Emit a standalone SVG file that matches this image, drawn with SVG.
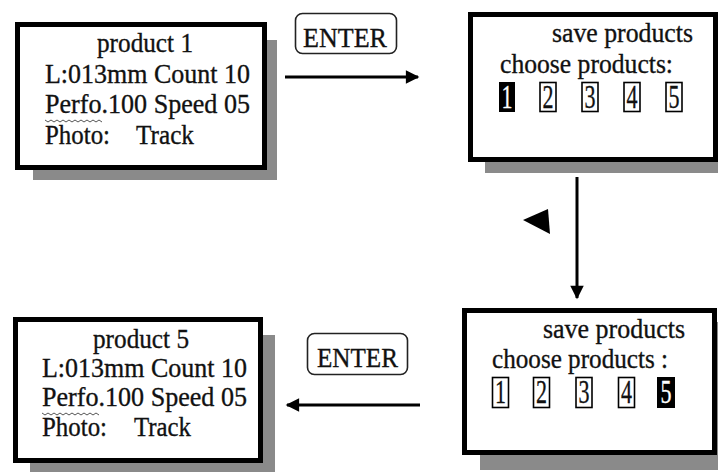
<svg xmlns="http://www.w3.org/2000/svg" width="718" height="472" viewBox="0 0 718 472" font-family="'Liberation Serif', 'DejaVu Serif', serif">
  <style>
    text { font-family: 'Liberation Serif', 'DejaVu Serif', serif; font-size: 28px; fill: #111; stroke: #111; stroke-width: 0.35; }
    .shadow { fill: #8a8a8a; }
    .panel { fill: #fff; stroke: #000; stroke-width: 5; }
    .key { fill: #fff; stroke: #222; stroke-width: 1.6; }
    .cell { fill: #fff; stroke: #000; stroke-width: 1.6; }
    .cell-on { fill: #000; }
    .digit { font-size: 34px; }
    .digit-on { font-size: 34px; fill: #fff; stroke: #fff; }
    .wire { fill: none; stroke: #000; stroke-width: 3; }
    .squiggle { fill: none; stroke: #555; stroke-width: 1; }
  </style>
  <defs>
    <marker id="head" viewBox="0 0 10 10" refX="9" refY="5" markerWidth="6" markerHeight="4.5" orient="auto" markerUnits="strokeWidth">
      <path d="M0,0 L10,5 L0,10 z" fill="#000"/>
    </marker>
  </defs>

  <rect width="718" height="472" fill="#fff"/>

  <!-- product 1 screen -->
  <g id="screen-product1">
    <rect class="shadow" x="33" y="40" width="244" height="140"/>
    <rect class="panel" x="17.5" y="24.5" width="247" height="143"/>
    <text x="97" y="52" textLength="96" lengthAdjust="spacingAndGlyphs">product 1</text>
    <text x="45" y="83" textLength="205" lengthAdjust="spacingAndGlyphs">L:013mm Count 10</text>
    <text x="45" y="113" textLength="205" lengthAdjust="spacingAndGlyphs">Perfo.100 Speed 05</text>
    <path class="squiggle" d="M45,120 l3,2 l3,-2 l3,2 l3,-2 l3,2 l3,-2 l3,2 l3,-2 l3,2 l3,-2 l3,2 l3,-2 l3,2 l3,-2 l3,2 l3,-2 l3,2 l3,-2 l3,2"/>
    <text x="45" y="144" textLength="65" lengthAdjust="spacingAndGlyphs">Photo:</text>
    <text x="136" y="144" textLength="58" lengthAdjust="spacingAndGlyphs">Track</text>
  </g>

  <!-- save products screen, slot 1 selected -->
  <g id="screen-save-1">
    <rect class="shadow" x="485" y="150" width="233" height="23"/>
    <rect class="panel" x="470.5" y="14.5" width="245" height="145"/>
    <text x="552" y="42" textLength="141" lengthAdjust="spacingAndGlyphs">save products</text>
    <text x="500" y="73" textLength="173" lengthAdjust="spacingAndGlyphs">choose products:</text>
    <rect class="cell-on" x="499" y="82" width="16" height="30"/>
    <text class="digit-on" x="507" y="108" text-anchor="middle" textLength="11" lengthAdjust="spacingAndGlyphs">1</text>
    <rect class="cell" x="540" y="82.5" width="16" height="29"/>
    <text class="digit" x="548" y="108" text-anchor="middle" textLength="11" lengthAdjust="spacingAndGlyphs">2</text>
    <rect class="cell" x="582" y="82.5" width="16" height="29"/>
    <text class="digit" x="590" y="108" text-anchor="middle" textLength="11" lengthAdjust="spacingAndGlyphs">3</text>
    <rect class="cell" x="624" y="82.5" width="16" height="29"/>
    <text class="digit" x="632" y="108" text-anchor="middle" textLength="11" lengthAdjust="spacingAndGlyphs">4</text>
    <rect class="cell" x="666" y="82.5" width="16" height="29"/>
    <text class="digit" x="674" y="108" text-anchor="middle" textLength="11" lengthAdjust="spacingAndGlyphs">5</text>
  </g>

  <!-- save products screen, slot 5 selected -->
  <g id="screen-save-5">
    <rect class="shadow" x="480" y="322" width="238" height="148"/>
    <rect class="panel" x="464.5" y="310.5" width="250" height="142"/>
    <text x="543" y="338" textLength="142" lengthAdjust="spacingAndGlyphs">save products</text>
    <text x="492" y="368" textLength="176" lengthAdjust="spacingAndGlyphs">choose products :</text>
    <rect class="cell" x="492.5" y="377.5" width="16" height="30"/>
    <text class="digit" x="500.5" y="403" text-anchor="middle" textLength="11" lengthAdjust="spacingAndGlyphs">1</text>
    <rect class="cell" x="533.5" y="377.5" width="16" height="30"/>
    <text class="digit" x="541.5" y="403" text-anchor="middle" textLength="11" lengthAdjust="spacingAndGlyphs">2</text>
    <rect class="cell" x="576" y="377.5" width="16" height="30"/>
    <text class="digit" x="584" y="403" text-anchor="middle" textLength="11" lengthAdjust="spacingAndGlyphs">3</text>
    <rect class="cell" x="618.5" y="377.5" width="16" height="30"/>
    <text class="digit" x="626.5" y="403" text-anchor="middle" textLength="11" lengthAdjust="spacingAndGlyphs">4</text>
    <rect class="cell-on" x="657" y="377" width="18" height="31"/>
    <text class="digit-on" x="666" y="403" text-anchor="middle" textLength="11" lengthAdjust="spacingAndGlyphs">5</text>
  </g>

  <!-- product 5 screen -->
  <g id="screen-product5">
    <rect class="shadow" x="30" y="335" width="245" height="137"/>
    <rect class="panel" x="15.5" y="319.5" width="245" height="141"/>
    <text x="93" y="348" textLength="96" lengthAdjust="spacingAndGlyphs">product 5</text>
    <text x="42" y="377" textLength="205" lengthAdjust="spacingAndGlyphs">L:013mm Count 10</text>
    <text x="42" y="406" textLength="205" lengthAdjust="spacingAndGlyphs">Perfo.100 Speed 05</text>
    <path class="squiggle" d="M42,413 l3,2 l3,-2 l3,2 l3,-2 l3,2 l3,-2 l3,2 l3,-2 l3,2 l3,-2 l3,2 l3,-2 l3,2 l3,-2 l3,2 l3,-2 l3,2 l3,-2 l3,2"/>
    <text x="42" y="436" textLength="65" lengthAdjust="spacingAndGlyphs">Photo:</text>
    <text x="134" y="436" textLength="57" lengthAdjust="spacingAndGlyphs">Track</text>
  </g>

  <!-- ENTER keys -->
  <g id="key-enter-top">
    <rect class="key" x="295.5" y="13.5" width="101" height="40" rx="7"/>
    <text x="303" y="47" textLength="84" lengthAdjust="spacingAndGlyphs">ENTER</text>
  </g>
  <g id="key-enter-bottom">
    <rect class="key" x="307.5" y="333.5" width="100" height="41" rx="7"/>
    <text x="317" y="367" textLength="81" lengthAdjust="spacingAndGlyphs">ENTER</text>
  </g>

  <!-- left-pointing cursor mark -->
  <g id="cursor-left">
    <polygon points="523,220 548,209 550,234" fill="#000"/>
  </g>

  <!-- connectors -->
  <g id="connectors">
    <line class="wire" x1="285" y1="77" x2="418" y2="77" marker-end="url(#head)"/>
    <line class="wire" x1="577" y1="177" x2="577" y2="298" marker-end="url(#head)"/>
    <line class="wire" x1="420" y1="405" x2="287" y2="405" marker-end="url(#head)"/>
  </g>
</svg>
